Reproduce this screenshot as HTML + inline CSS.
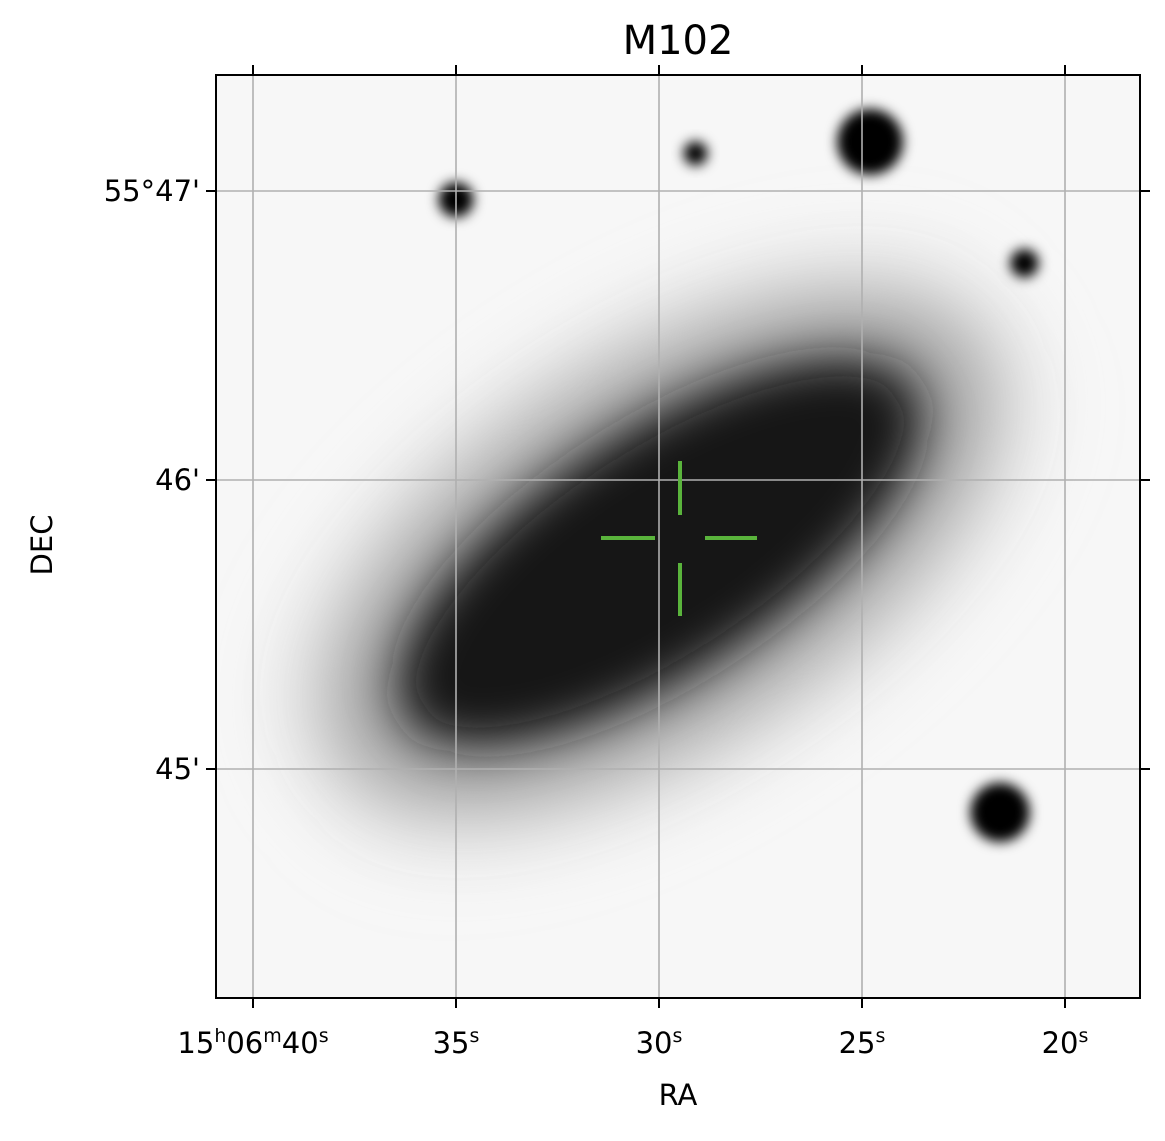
<!DOCTYPE html>
<html><head><meta charset="utf-8"><style>
body{margin:0;background:#fff;}
svg text{font-family:"DejaVu Sans","Liberation Sans",sans-serif;fill:#000;}
</style></head><body>
<svg id="chart" width="1165" height="1136" viewBox="0 0 1165 1136" xmlns="http://www.w3.org/2000/svg">
<defs>
<clipPath id="clip"><rect x="216" y="75" width="924" height="923"/></clipPath>
<filter id="b1" x="-50%" y="-50%" width="200%" height="200%"><feGaussianBlur stdDeviation="45"/></filter>
<filter id="b2" x="-50%" y="-50%" width="200%" height="200%"><feGaussianBlur stdDeviation="24"/></filter>
<filter id="b3" x="-50%" y="-50%" width="200%" height="200%"><feGaussianBlur stdDeviation="6"/></filter>
</defs>
<rect x="216" y="75" width="924" height="923" fill="#f7f7f7"/>
<g clip-path="url(#clip)" id="img">
  <ellipse cx="660" cy="552" rx="400" ry="200" transform="rotate(-33 660 552)" fill="#c8c8c8" filter="url(#b1)"/>
  <ellipse cx="660" cy="552" rx="350" ry="150" transform="rotate(-33 660 552)" fill="#8a8a8a" filter="url(#b1)"/>
  <ellipse cx="660" cy="552" rx="300" ry="118" transform="rotate(-33 660 552)" fill="#141414" filter="url(#b2)"/>
  <g id="stars"></g>
</g>
<g id="grid"></g>
<rect x="216" y="75" width="924" height="923" fill="none" stroke="#000" stroke-width="2"/>
<g id="ticks"></g>
<g id="cross" stroke="#5ab43c" stroke-width="4">
  <line x1="680" y1="461" x2="680" y2="515"/><line x1="680" y1="563" x2="680" y2="616"/>
  <line x1="601" y1="538" x2="655" y2="538"/><line x1="705" y1="538" x2="757" y2="538"/>
</g>
<text x="678" y="54" font-size="40" text-anchor="middle">M102</text>
<text x="678" y="1105" font-size="29" text-anchor="middle">RA</text>
<text x="52" y="545" font-size="29" text-anchor="middle" transform="rotate(-90 52 545)">DEC</text>
</svg>
<script>
const raTicks=[40,35,30,25,20];
const raLabels=[["15","h","06","m","40","s"],["35","s"],["30","s"],["25","s"],["20","s"]];
const decTicks=[47,46,45];
const decLabels=["55°47'","46'","45'"];
const starRA=[35.0,29.1,24.8,21.0,21.6];
const starDec=[46.97,47.13,47.17,46.75,44.85];
const starSize=[16,11,30,13,27];
const NS="http://www.w3.org/2000/svg";
const xOf=s=>253+(40-s)*40.6;
const yOf=m=>480-(m-46)*289;
function mk(t,a,p){const e=document.createElementNS(NS,t);for(const k in a)e.setAttribute(k,a[k]);p.appendChild(e);return e;}
const stars=document.getElementById('stars'),grid=document.getElementById('grid'),ticks=document.getElementById('ticks');
starRA.forEach((s,i)=>{
  const c=mk('circle',{cx:xOf(s),cy:yOf(starDec[i]),r:starSize[i]*1.1,fill:'#000',filter:'url(#b3)'},stars);
  
  
});
raTicks.forEach((s,i)=>{
  const x=xOf(s);
  const g=mk('line',{x1:x,y1:75,x2:x,y2:998,stroke:'#b0b0b0','stroke-width':1.6},grid);
  
  
  mk('line',{x1:x,y1:998,x2:x,y2:1008,stroke:'#000','stroke-width':2},ticks);
  mk('line',{x1:x,y1:75,x2:x,y2:65,stroke:'#000','stroke-width':2},ticks);
  const t=mk('text',{x:x,y:1053,'font-size':29,'text-anchor':'middle'},ticks);
  
  
  const L=raLabels[i];
  for(let j=0;j<L.length;j+=2){
    const a=mk('tspan',j>0?{dy:11}:{},t);a.textContent=L[j];
    const b=mk('tspan',{'font-size':19,dy:-11},t);b.textContent=L[j+1];
  }
});
decTicks.forEach((m,i)=>{
  const y=yOf(m);
  const g=mk('line',{x1:216,y1:y,x2:1140,y2:y,stroke:'#b0b0b0','stroke-width':1.6},grid);
  
  
  mk('line',{x1:206,y1:y,x2:216,y2:y,stroke:'#000','stroke-width':2},ticks);
  mk('line',{x1:1140,y1:y,x2:1150,y2:y,stroke:'#000','stroke-width':2},ticks);
  const t=mk('text',{x:200,y:y+10,'font-size':29,'text-anchor':'end'},ticks);
  t.textContent=decLabels[i];
  
  
});
</script>
</body></html>
